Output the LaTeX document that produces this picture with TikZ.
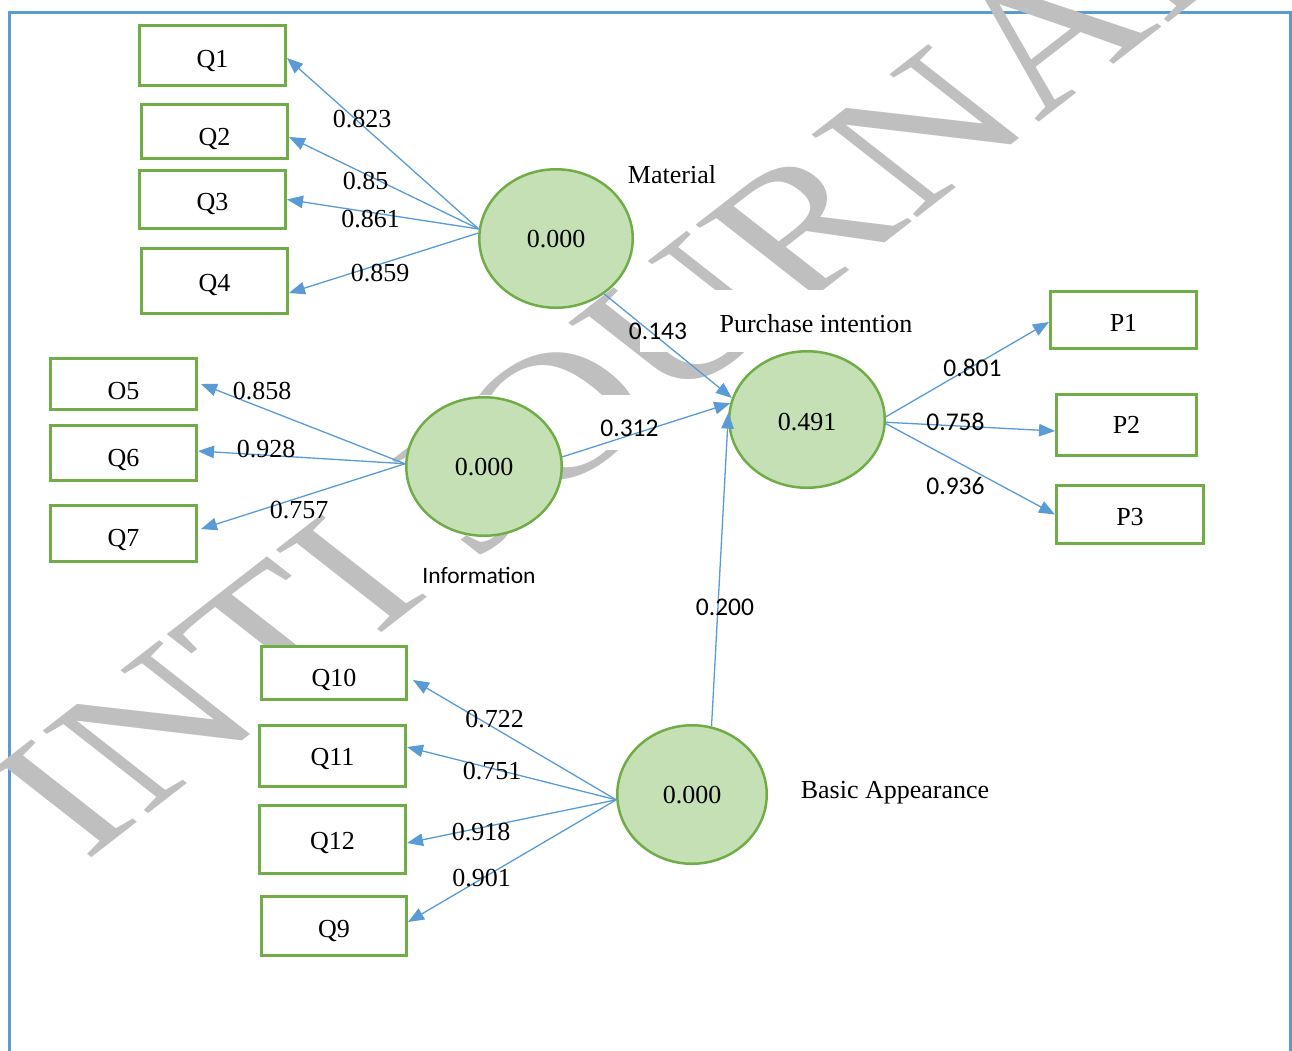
\documentclass[tikz,border=0pt]{standalone}
\usepackage{fontspec}
\setmainfont{Liberation Serif}
\newfontfamily\calib{Carlito}
\usetikzlibrary{shapes.geometric,arrows.meta,calc}
\definecolor{fgreen}{HTML}{70AD47}
\definecolor{cfill}{HTML}{C5E0B4}
\definecolor{lblue}{HTML}{5B9BD5}
\definecolor{wgrey}{HTML}{BFBFBF}
\newcommand{\dn}[2]{\raisebox{-#1pt}{#2}}
\begin{document}
\begin{tikzpicture}[x=1pt,y=-1pt,
  box/.style={draw=fgreen, line width=3pt, fill=white, inner sep=0pt, minimum width=146pt,
    font=\fontsize{26}{30}\selectfont, text height=17.2pt, text depth=0pt},
  lat/.style={ellipse, draw=fgreen, line width=2.5pt, fill=cfill, inner sep=0pt,
    font=\fontsize{26}{30}\selectfont, text height=17.6pt, text depth=0pt},
  lbl/.style={inner sep=0pt, font=\fontsize{26}{30}\selectfont, text height=17.6pt, text depth=0pt},
  clbl/.style={inner sep=0pt, font=\calib\fontsize{25.5}{30}\selectfont, text height=16.1pt, text depth=0pt},
  conn/.style={draw=lblue, line width=1.3pt, -{Triangle[length=16pt,width=12.5pt]}},
]
\useasboundingbox (0,0) rectangle (1292,1050);
\clip (0,0) rectangle (1292,1050);
\fill[white] (0,0) rectangle (1292,1050);
% frame
\draw[lblue, line width=3pt] (9,1070) -- (9,12) -- (1290,12) -- (1290,1070);
% watermark
\begin{scope}[cm={1.74,1.35,-1.61,1.26,(85.5,862.4)}]
\node[transform shape, anchor=base west, inner sep=0pt, text=wgrey,
  font=\fontsize{100}{100}\selectfont] (wm) at (0,0) {INTI JOURNAL};
\end{scope}
% opaque text boxes of labels
\fill[white] (640,290) rectangle (925,352);
\fill[white] (480,395) rectangle (705,450);
% indicator boxes
\node[box, minimum height=60pt] (q1) at (212.5,55.5) {\dn{3}{Q1}};
\node[box, minimum height=54pt] (q2) at (214.5,131.5) {\dn{5}{Q2}};
\node[box, minimum height=58pt] (q3) at (212.5,199.5) {\dn{2.5}{Q3}};
\node[box, minimum height=65pt] (q4) at (214.5,281) {\dn{2}{Q4}};
\node[box, minimum height=51pt] (o5) at (123.5,384) {\dn{6.5}{O5}};
\node[box, minimum height=55pt] (q6) at (123.5,453) {\dn{5}{Q6}};
\node[box, minimum height=56pt] (q7) at (123.5,533.5) {\dn{4.5}{Q7}};
\node[box, minimum width=145pt, minimum height=53pt] (q10) at (334,673) {\dn{5}{Q10}};
\node[box, minimum height=61pt] (q11) at (332.5,756) {\dn{1}{Q11}};
\node[box, minimum height=68pt] (q12) at (332.5,839.5) {\dn{1}{Q12}};
\node[box, minimum width=145pt, minimum height=59pt] (q9) at (334,926) {\dn{3}{Q9}};
\node[box, minimum height=57pt] (p1) at (1123.5,320) {\dn{3}{P1}};
\node[box, minimum width=140pt, minimum height=61pt] (p2) at (1126.5,425) {P2};
\node[box, minimum width=147pt, minimum height=58pt] (p3) at (1130,514.5) {\dn{2.5}{P3}};
% latent variables
\node[lat, minimum width=153.5pt, minimum height=138.5pt] (mat) at (556,238.5) {0.000};
\node[lat, minimum width=155.5pt, minimum height=138.5pt] (inf) at (484,466.5) {0.000};
\node[lat, minimum width=155.5pt, minimum height=136.5pt] (pur) at (807,419.5) {\dn{2}{0.491}};
\node[lat, minimum width=149.5pt, minimum height=138.5pt] (bas) at (692,794.5) {0.000};
% connectors
\draw[conn] (mat.173) -- ([yshift=-2.5pt]q1.east);
\draw[conn] (mat.173) -- ([yshift=-5.5pt]q2.east);
\draw[conn] (mat.173) -- (q3.east);
\draw[conn] (mat.176) -- ([yshift=-12pt]q4.east);
\draw[conn] (inf.178) -- ([xshift=3pt]o5.east);
\draw[conn] (inf.178) -- ([yshift=2pt]q6.east);
\draw[conn] (inf.178) -- ([xshift=3pt,yshift=4.5pt]q7.east);
\draw[conn] (bas.184) -- ([xshift=5pt,yshift=-7pt]q10.east);
\draw[conn] (bas.184) -- ([yshift=9pt]q11.east);
\draw[conn] (bas.184) -- ([yshift=-3.5pt]q12.east);
\draw[conn] (bas.184) -- ([yshift=4pt]q9.east);
\draw[conn] (mat.-49) -- (pur.164);
\draw[conn] (inf.7) -- (pur.168);
\draw[conn] (bas.74) -- (pur.175);
\draw[conn] (pur.2) -- ([yshift=-2pt]p1.west);
\draw[conn] (pur.-2) -- ([yshift=-6pt]p2.west);
\draw[conn] (pur.-3) -- (p3.west);
% loadings and path coefficients
\node[lbl] (l1) at (362,119) {0.823};
\node[lbl] (l2) at (365.5,181) {0.85};
\node[lbl] (l3) at (370.5,219) {0.861};
\node[lbl] (l4) at (380,272.5) {0.859};
\node[lbl] (l5) at (262,391) {0.858};
\node[lbl] (l6) at (266,449) {0.928};
\node[lbl] (l7) at (299,510) {0.757};
\node[lbl] (l10) at (494.5,719) {0.722};
\node[lbl] (l11) at (492,771) {0.751};
\node[lbl] (l12) at (481,832) {0.918};
\node[lbl] (l9) at (481.5,878) {0.901};
\node[clbl] (c1) at (658,331.5) {0.143};
\node[clbl] (c2) at (629.5,428.5) {0.312};
\node[clbl] (c3) at (725,607.5) {0.200};
\node[clbl] (c4) at (972.5,368.5) {0.801};
\node[clbl] (c5) at (955.5,422.5) {0.758};
\node[clbl] (c6) at (955.5,486) {0.936};
% construct names
\node[lbl] (nmat) at (672,174.5) {Material};
\node[lbl] (npur) at (816,324) {Purchase intention};
\node[inner sep=0pt, font=\calib\fontsize{23.5}{28}\selectfont, text height=15.1pt, text depth=0pt] (ninf) at (479,576) {Information};
\node[lbl] (nbas) at (895,789.5) {Basic Appearance};
\end{tikzpicture}
\end{document}
